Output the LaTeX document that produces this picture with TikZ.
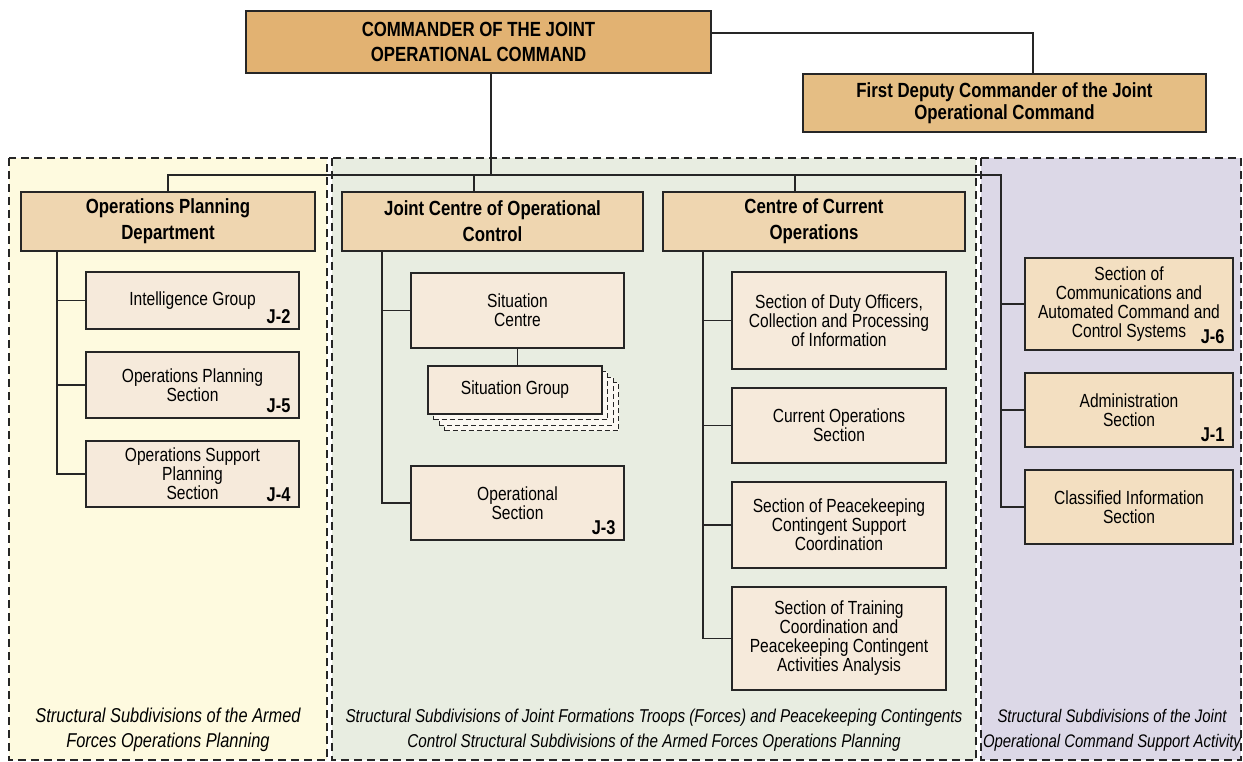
\documentclass[tikz,border=0pt]{standalone}
\usepackage{fontspec}
\setmainfont{Liberation Sans}[FakeStretch=0.82]
\begin{document}
\begin{tikzpicture}[x=1pt,y=-1pt,
  every node/.style={inner sep=0pt, align=center},
  boxbase/.style={draw=black!85, line width=1.3pt},
  cmdbox/.style={boxbase, fill=cmdfill, font=\fontsize{20.5}{25}\selectfont\bfseries},
  depbox/.style={boxbase, fill=depfill, font=\fontsize{20.5}{22}\selectfont\bfseries},
  deptbox/.style={boxbase, fill=deptfill, font=\fontsize{20.5}{26}\selectfont\bfseries},
  subbox/.style={boxbase, fill=subfill, font=\fontsize{19}{19}\selectfont},
  supbox/.style={boxbase, fill=supfill, font=\fontsize{19}{19}\selectfont},
  ghost/.style={draw=black!85, dash pattern=on 5pt off 3pt, line width=1pt, fill=ghostfill},
  jlab/.style={font=\fontsize{20}{20}\selectfont\bfseries, anchor=base east},
  conn/.style={draw=black!85, line width=1.2pt},
  panel/.style={dash pattern=on 8pt off 5pt, line width=1.2pt, draw=black!85},
  plabel/.style={font=\fontsize{18.6}{25}\selectfont\itshape}
]
\definecolor{cmdfill}{HTML}{E2B272}
\definecolor{depfill}{HTML}{E5BE84}
\definecolor{deptfill}{HTML}{EFD6B0}
\definecolor{subfill}{HTML}{F6EADB}
\definecolor{supfill}{HTML}{F3DFC1}
\definecolor{ghostfill}{HTML}{FBF8F2}
\definecolor{pyellow}{HTML}{FEFADF}
\definecolor{pgreen}{HTML}{E8EDE1}
\definecolor{plav}{HTML}{DCD8E7}

\useasboundingbox (0,0) rectangle (1243,762);

% panels
\fill[pyellow] (9,158) rectangle (327,760);
\fill[pgreen] (332,158) rectangle (976,760);
\fill[plav] (981,158) rectangle (1241,760);
\draw[panel] (9,158) rectangle (327,760);
\draw[panel] (332,158) rectangle (976,760);
\draw[panel] (981,158) rectangle (1241,760);

% panel labels
\node[plabel, font=\fontsize{20}{25}\selectfont\itshape] (lab1) at (168,730) {Structural Subdivisions of the Armed\\Forces Operations Planning};
\node[plabel] (lab2) at (654,730) {Structural Subdivisions of Joint Formations Troops (Forces) and Peacekeeping Contingents\\Control Structural Subdivisions of the Armed Forces Operations Planning};
\node[plabel, font=\fontsize{18.2}{25}\selectfont\itshape] (lab3) at (1112,730) {Structural Subdivisions of the Joint\\Operational Command Support Activity};

% top boxes
\node[cmdbox, minimum width=465pt, minimum height=62pt] (cmd) at (478.5,42) {COMMANDER OF THE JOINT\\OPERATIONAL COMMAND};
\node[depbox, minimum width=403pt, minimum height=58pt] (dep) at (1004.5,103) {First Deputy Commander of the Joint\\Operational Command};

% departments
\node[deptbox, minimum width=294pt, minimum height=59pt] (opd) at (168,221.5) {Operations Planning\\Department};
\node[deptbox, minimum width=301pt, minimum height=59pt] (jcoc) at (492.5,221.5) {Joint Centre of Operational\\Control};
\node[deptbox, minimum width=302pt, minimum height=59pt] (cco) at (814,221.5) {Centre of Current\\Operations};

% coordinates
\coordinate (busC) at (491,175);
\coordinate (busR) at (1001,175);
\coordinate (t1) at (474,175);
\coordinate (t2) at (795,175);
\coordinate (dk) at (1033,33);
\coordinate (v1) at (57,251);
\coordinate (v2) at (382,251);
\coordinate (v3) at (703,251);

% left column
\node[subbox, minimum width=213pt, minimum height=57pt] (ig) at (192.5,300.5) {Intelligence Group};
\node[subbox, minimum width=213pt, minimum height=66pt] (ops) at (192.5,385) {Operations Planning\\Section};
\node[subbox, minimum width=213pt, minimum height=66pt] (osp) at (192.5,474) {Operations Support\\Planning\\Section};

% middle-left column
\node[subbox, minimum width=213pt, minimum height=75pt] (sc) at (517.5,310.5) {Situation\\Centre};
\node[ghost, minimum width=174pt, minimum height=48pt] (sg3) at (531.5,406.5) {};
\node[ghost, minimum width=174pt, minimum height=48pt] (sg2) at (526,401) {};
\node[ghost, minimum width=174pt, minimum height=48pt] (sg1) at (520.5,395.5) {};
\node[subbox, minimum width=174pt, minimum height=48pt] (sg) at (515,390) {Situation Group};
\node[subbox, minimum width=213pt, minimum height=74pt] (os) at (517.5,503) {Operational\\Section};

% middle-right column
\node[subbox, minimum width=214pt, minimum height=97pt] (duty) at (839,320.5) {Section of Duty Officers,\\Collection and Processing\\of Information};
\node[subbox, minimum width=214pt, minimum height=75pt] (cur) at (839,425.5) {Current Operations\\Section};
\node[subbox, minimum width=214pt, minimum height=86pt] (pk) at (839,525) {Section of Peacekeeping\\Contingent Support\\Coordination};
\node[subbox, minimum width=214pt, minimum height=103pt] (tr) at (839,638.5) {Section of Training\\Coordination and\\Peacekeeping Contingent\\Activities Analysis};

% right column
\node[supbox, minimum width=208pt, minimum height=92pt] (com) at (1129,304) {Section of\\Communications and\\Automated Command and\\Control Systems};
\node[supbox, minimum width=208pt, minimum height=74pt] (adm) at (1129,410) {Administration\\Section};
\node[supbox, minimum width=208pt, minimum height=74pt] (cls) at (1129,507) {Classified Information\\Section};

% J labels
\node[jlab] (j2) at ([shift={(-9,-6)}]ig.south east) {J-2};
\node[jlab] (j5) at ([shift={(-9,-6)}]ops.south east) {J-5};
\node[jlab] (j4) at ([shift={(-9,-6)}]osp.south east) {J-4};
\node[jlab] (j3) at ([shift={(-9,-6)}]os.south east) {J-3};
\node[jlab] (j6) at ([shift={(-9,-7)}]com.south east) {J-6};
\node[jlab] (j1) at ([shift={(-9,-6)}]adm.south east) {J-1};

% connectors
\draw[conn] (cmd.south -| busC) -- (busC);
\draw[conn] (cmd.east |- dk) -- (dk) -- (dep.north -| dk);
\draw[conn] (opd.north) |- (busR) |- (cls.west);
\draw[conn] (busR) |- (com.west);
\draw[conn] (busR) |- (adm.west);
\draw[conn] (jcoc.north -| t1) -- (t1);
\draw[conn] (cco.north -| t2) -- (t2);
\draw[conn] (v1) |- (ig.west);
\draw[conn] (v1) |- (ops.west);
\draw[conn] (v1) |- (osp.west);
\draw[conn] (v2) |- (sc.west);
\draw[conn] (v2) |- (os.west);
\draw[conn] (v3) |- (duty.west);
\draw[conn] (v3) |- (cur.west);
\draw[conn] (v3) |- (pk.west);
\draw[conn] (v3) |- (tr.west);
\draw[conn] (sc.south) -- (sc.south |- sg.north);
\end{tikzpicture}
\end{document}
